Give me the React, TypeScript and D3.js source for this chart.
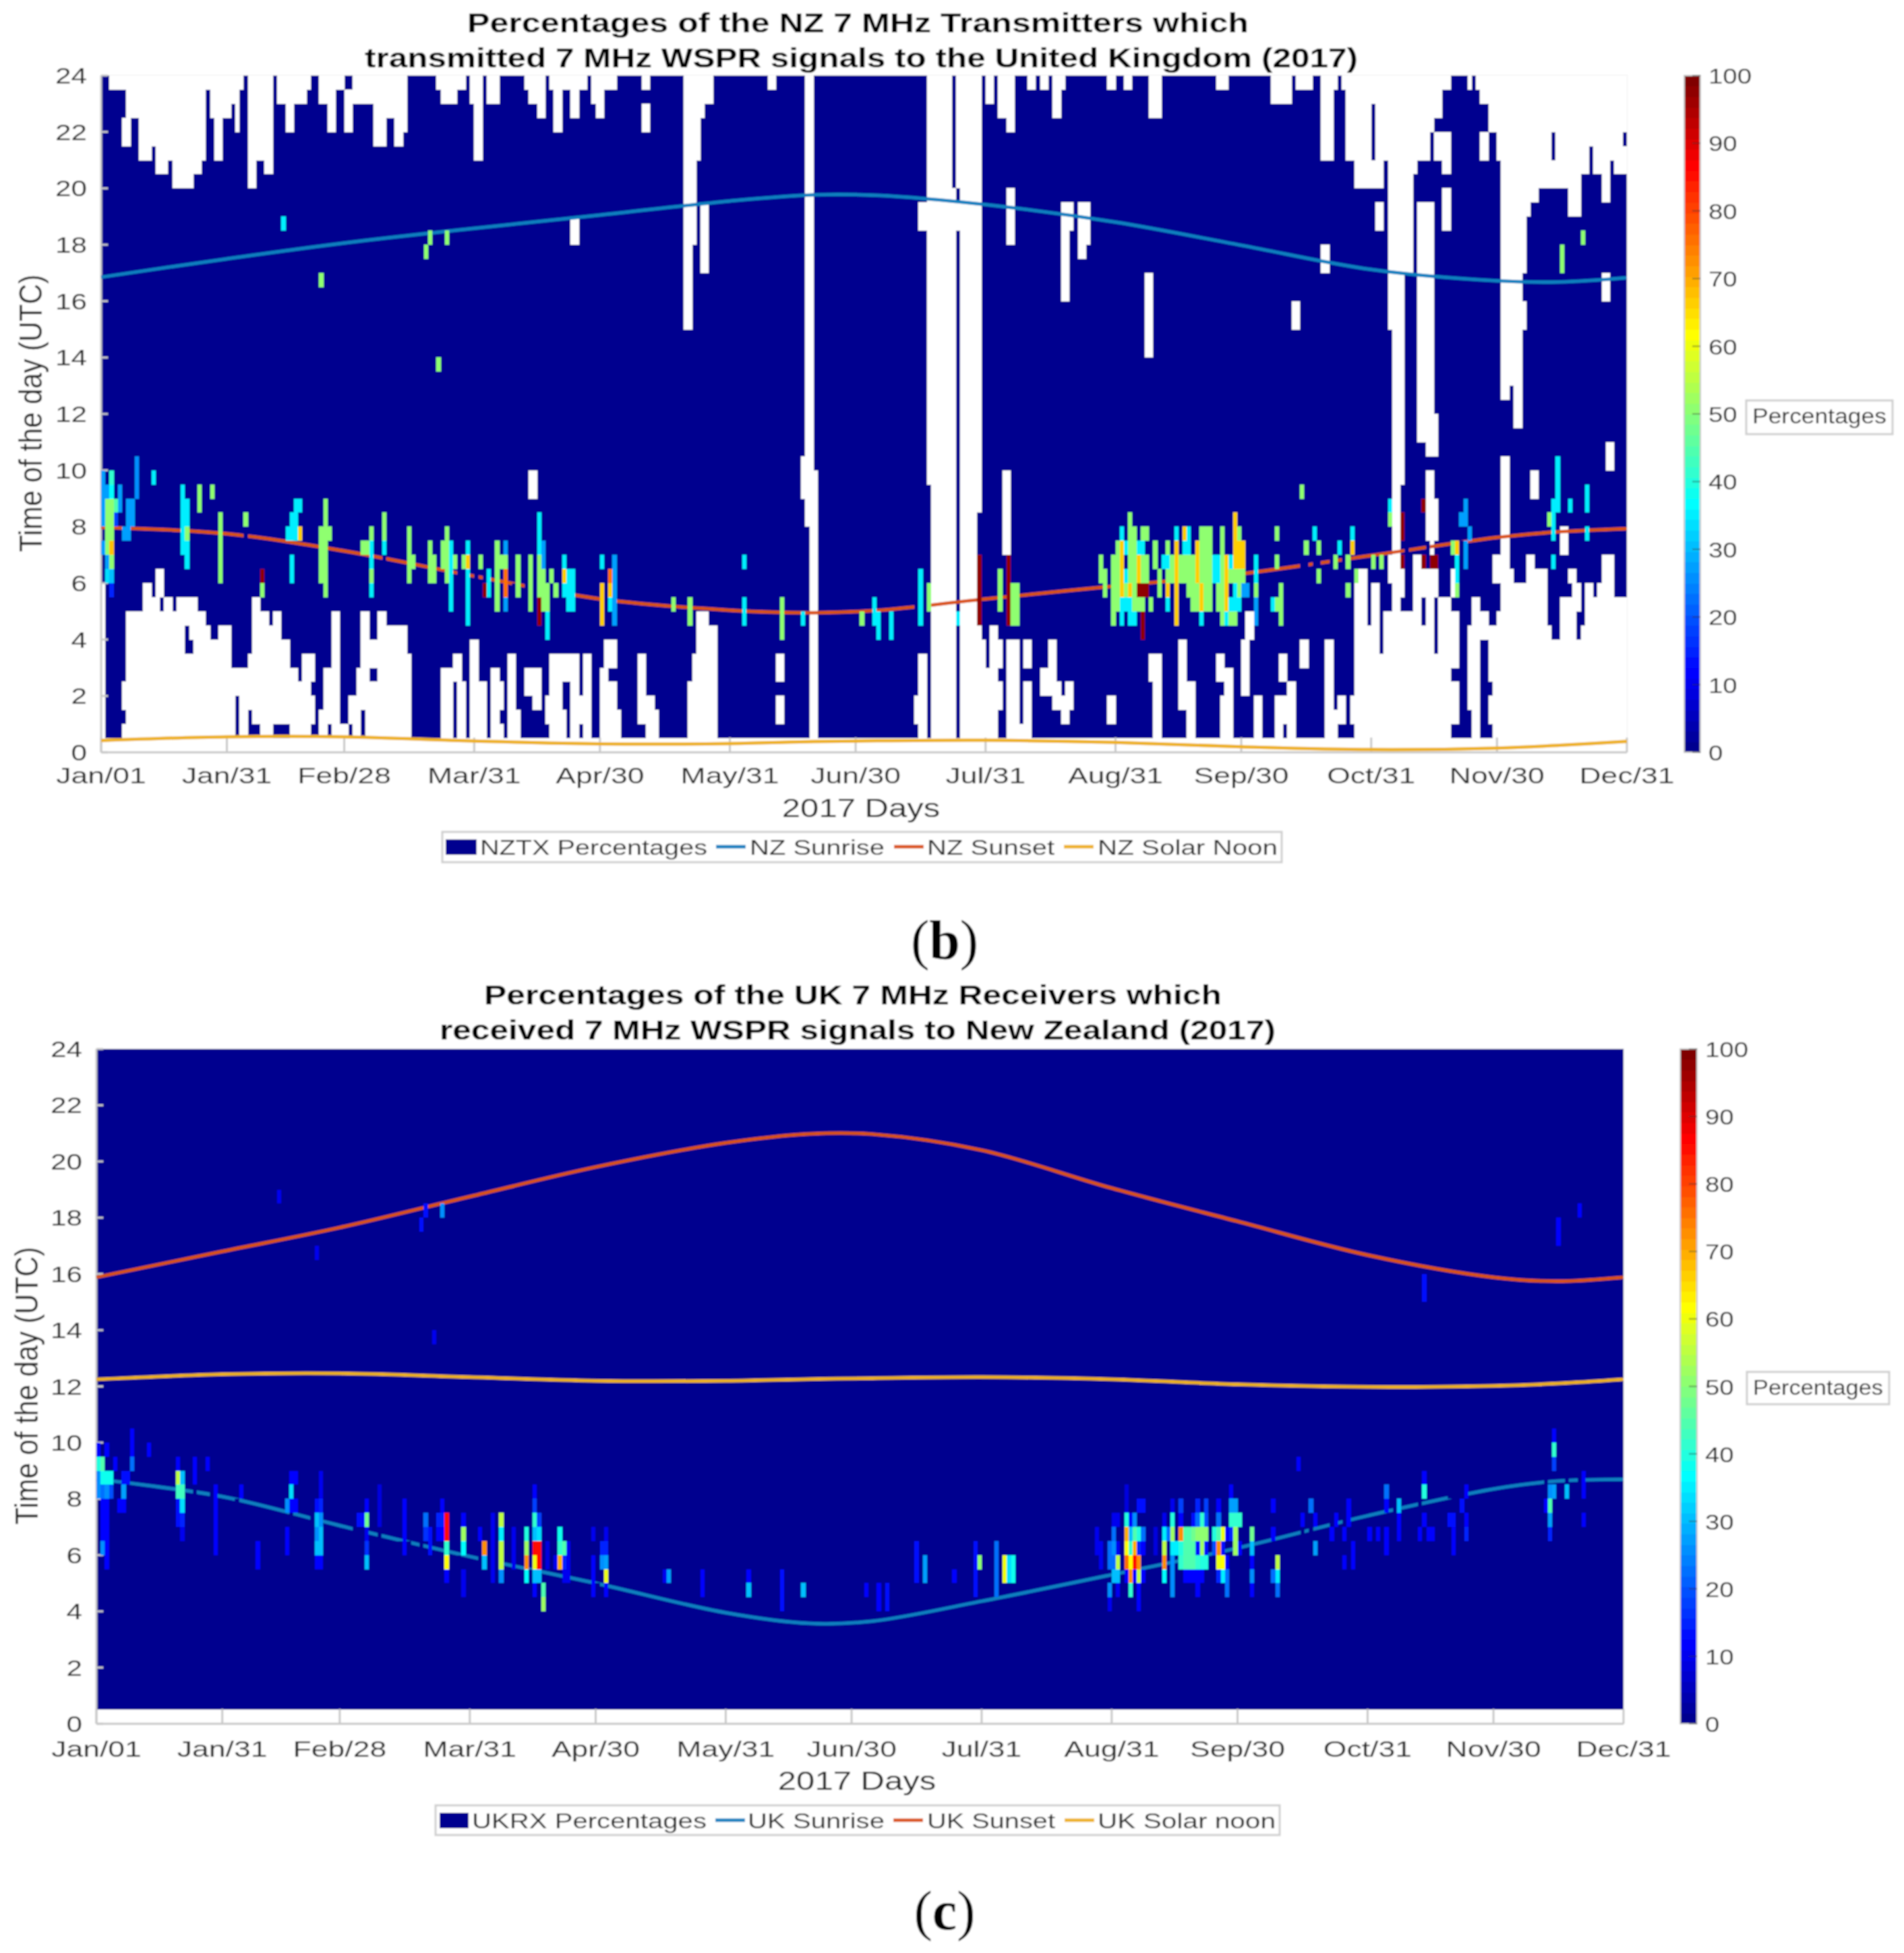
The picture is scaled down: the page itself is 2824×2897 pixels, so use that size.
import React from "react";
import * as d3 from "d3";

const dayTicks = [0, 30, 58, 89, 119, 150, 180, 211, 242, 272, 303, 333, 364];
const dayLabels = ["Jan/01", "Jan/31", "Feb/28", "Mar/31", "Apr/30", "May/31", "Jun/30", "Jul/31", "Aug/31", "Sep/30", "Oct/31", "Nov/30", "Dec/31"];
const hourTicks = [0, 2, 4, 6, 8, 10, 12, 14, 16, 18, 20, 22, 24];
const pctTicks = [0, 10, 20, 30, 40, 50, 60, 70, 80, 90, 100];

// white (no data) runs of the NZ panel: first day, last day, from hour, to hour
const nzGaps = [
  [2,5,23.5,24],[5,6,21.5,22.5],[6,8,22.5,24],[9,11,21,24],[12,12,21.5,24],[13,15,20.5,24],[16,16,21,24],[17,21,20,24],[22,23,20.5,24],[24,24,21,24],[25,25,23.5,24],[26,26,22.5,24],[27,28,21,24],[29,30,22.5,24],[31,31,23,24],[32,32,22,24],[33,33,23.5,24],[35,36,20,24],[37,38,21,24],[39,40,20.5,24],[42,43,23,24],[44,45,22,24],[46,48,23,24],[49,49,23.5,24],[52,53,23,24],[54,55,22,24],[56,57,23.5,24],[58,59,22,23.5],[60,64,23,24],[65,67,21.5,24],[68,69,22.5,24],[70,71,21.5,24],[72,72,22,24],
  [80,80,23.5,24],[81,84,23,24],[85,86,23.5,24],[88,88,23,24],[89,90,21,24],[92,94,23,24],[101,101,23.5,24],[102,103,23,24],[104,105,22.5,24],[107,107,23.5,24],[108,109,22,24],[110,111,23.5,24],[112,113,22.5,24],[114,115,23.5,24],[117,117,23,24],[118,119,22.5,24],[120,122,23.5,24],[129,130,23.5,24],[129,130,22,23],
  [112,113,18,19],[102,103,9,10],[139,140,15,24],[141,141,18,24],[142,142,21,24],[143,143,22.5,24],[144,145,23,24],[143,144,17,19.5],[159,160,23.5,24],
  [168,169,10.5,24],[167,169,10,10.5],[167,170,9,10],[168,170,8,9],[169,170,0.5,8],
  [0,0,0.5,6],[5,5,0.5,1],[5,5,1.5,2.5],[6,9,0.5,5],[10,11,0.5,6],[12,12,0.5,5.5],[13,13,0.5,6.5],[14,14,0.5,5],[14,14,5.5,6.5],[15,16,0.5,5.5],[17,17,0.5,5],[18,19,0.5,5.5],[20,20,0.5,3.5],[20,20,4.5,5.5],[21,21,0.5,3.5],[21,21,4,5.5],[22,22,0.5,5.5],[23,24,0.5,5],[25,25,0.5,4.5],[26,27,0.5,4],[28,30,0.5,4.5],
  [31,31,0.5,3],[32,32,2,3],[33,34,0.5,3],[35,35,1.5,3.5],[36,37,1,5.5],[38,39,0.5,5],[40,40,0.5,4.5],[41,42,1,5],[43,44,1,4],[45,46,0.5,3],[47,47,0.5,2.5],[48,49,0.5,3.5],[50,50,1,2],[50,50,2.5,3.5],[52,52,0.5,1.5],[53,53,0.5,3],[54,54,1,3],[55,56,0.5,5],[57,58,0.5,1],[59,59,1,2],[60,60,0.5,2],[61,61,0.5,3],[62,62,1.5,5],[63,63,0.5,5],[64,65,0.5,2.5],[64,65,3,4],[66,67,0.5,5],[68,72,0.5,4.5],[73,73,0.5,3.5],
  [81,83,0.5,3],[84,84,2.5,3.5],[85,85,0.5,3.5],[86,86,0.5,2.5],[88,89,0.5,4],[90,91,0.5,2.5],[93,94,0.5,3],[95,95,0.5,1],[95,95,1.5,2.5],[97,98,0.5,3.5],[99,99,0.5,1.5],[101,102,2,3],[103,104,1.5,3],[106,106,1,2],[107,109,0.5,3.5],[110,110,0.5,1.5],[110,110,2.5,3.5],[111,111,2.5,3.5],[112,113,0.5,3.5],[114,114,1,2],[115,116,0.5,3.5],[119,119,0.5,3],[120,120,0.5,4],[121,122,0.5,2.5],[121,122,3,4],[123,123,0.5,1.5],[128,129,1,3.5],[130,131,0.5,2],[132,132,0.5,1.5],[140,140,0.5,2.5],[141,141,0.5,3.5],[142,144,0.5,5],[145,146,0.5,4.5],[161,162,2.5,3.5],[161,162,1,2],
  [194,194,1,2],[195,196,0.5,3.5],[195,196,18.5,19.5],[197,197,9.5,18.5],[197,197,18.5,24],[198,202,0.5,24],[203,203,0.5,20],[204,204,18.5,19.5],[204,204,20,24],[205,208,0.5,24],[209,209,0.5,4.5],[209,209,8.5,24],[210,210,0.5,4],[211,211,0.5,3],[212,213,0.5,4.5],[214,214,1.5,2.5],[214,214,3,4],[215,216,7,10],[216,218,0.5,4],[219,219,0.5,1],[220,221,0.5,2.5],[220,221,3,4],[224,225,2,3],[226,226,2,4],[227,227,1.5,4],[228,228,1.5,2.5],[229,229,1,2],[230,230,1,2.5],[231,231,1.5,2.5],[240,241,1,2],[250,250,2.5,3.5],[251,252,0.5,3.5],[257,258,1.5,4],[259,260,0.5,2.5],[266,267,2.5,3.5],[267,267,0.5,2],[268,269,0.5,3],
  [211,212,23,24],[214,215,22.5,24],[216,217,22,24],[216,217,18,20],[221,222,23.5,24],[224,225,23.5,24],[227,228,22.5,24],[229,229,23.5,24],[229,231,18.5,19.5],[229,230,16,18.5],[233,235,18,19.5],[233,234,17.5,18],[240,241,23.5,24],[244,245,23.5,24],[250,252,22.5,24],[249,250,14,17],[266,268,23.5,24],[279,283,23,24],[285,288,23.5,24],[284,285,15,16],
  [272,272,2,4],[273,273,2,5],[274,274,4,5],[275,276,0.5,2],[280,281,0.5,2],[282,282,1,2],[283,284,0.5,2.5],[281,282,2.5,3.5],[286,287,3,4],[292,293,0.5,4],[294,294,0.5,1.5],[295,296,1,2],[298,298,1,2],
  [291,293,21,24],[291,292,17,18],[294,294,23.5,24],[296,296,23.5,24],[297,298,21,24],[299,302,20,24],[303,303,20,21],[303,303,23,24],[304,305,20,24],[304,305,18.5,19.5],[306,306,21,24],
  [299,301,0.5,6.5],[302,302,0.5,4.5],[303,304,0.5,6],[305,305,0.5,3.5],[306,306,0.5,5],[307,307,0.5,5],[307,307,6,7],[307,307,15,24],[308,309,0.5,24],[310,310,9.5,24],[310,310,0.5,5],[310,310,5.5,6.5],[311,312,0.5,5],[311,312,17,24],[313,313,20.5,24],[313,314,0.5,7],[314,317,11,19.5],[314,316,21,24],[317,317,22,24],[318,319,22.5,24],[318,319,21,22],[315,315,0.5,4.5],[315,315,5.5,6.5],[316,317,0.5,6.5],[316,317,7,10],[316,318,10.5,11],[318,318,11,12],[318,318,7.5,9],[318,318,0.5,3.5],[318,318,5.5,6.5],[319,321,0.5,5.5],[320,321,18.5,20],[320,321,20.5,22],[320,321,23.5,24],[322,323,1,2.5],[322,323,3,5],[322,323,5.5,6.5],[326,326,23.5,24],[328,328,23.5,24],[329,330,23,24],[329,330,21,22],[326,326,1.5,4.5],[327,328,0.5,5.5],[329,330,4,5],[331,331,1,2],[331,331,2.5,4.5],[332,332,0.5,4.5],[332,333,6,7],[333,333,0.5,5],[331,332,22,24],[333,333,21,24],
  [334,335,0.5,10.5],[334,335,12.5,24],[336,336,0.5,6.5],[336,336,13,24],[337,338,0.5,6],[337,338,11.5,24],[339,339,0.5,6],[339,339,15,16],[339,339,17,24],[340,340,0.5,7],[340,340,19,24],[341,341,0.5,7],[341,342,9,10],[341,342,19.5,24],[342,344,0.5,6.5],[343,345,20,24],[345,345,0.5,4.5],[346,347,0.5,4],[346,346,22,24],[346,346,20,21],[347,349,20,24],[348,349,0.5,5.5],[348,349,7,8],[350,350,0.5,5.5],[350,350,6,6.5],[351,351,0.5,6.5],[352,352,0.5,4],[352,352,5,6],[353,353,0.5,4.5],[350,352,19,24],[353,354,20.5,24],[354,355,0.5,6],[355,355,21.5,24],[356,357,20.5,24],[356,356,0.5,5.5],[357,357,0.5,6],[358,360,0.5,7],[358,359,19.5,24],[358,359,16,17],[359,360,10,11],[360,360,21,24],[361,363,0.5,5.5],[361,362,20.5,24],[363,363,22,24],[363,363,20.5,21.5],
];

// coloured cells of the NZ panel: day, from hour, to hour, percentage
const nzCellsSpring = [
  [0,8,10,27],[0,7,7.5,28],[1,9,9.5,27],[1,7,9,50],[1,6.5,7,28],[1,6,6.5,33],[2,9.5,10,42],[2,9,9.5,37],[2,7.5,9,50],[2,7,7.5,68],[2,6.5,7,50],[2,6,6.5,30],[2,5.5,6,15],[3,8.5,9,45],[3,8,8.5,18],[4,8.5,9.5,27],[5,7.5,8,27],[6,7.5,9,27],[7,8,9,27],[8,9,10.5,25],[12,9.5,10,35],[19,7,9.5,35],[20,8,9,35],[20,7.5,8,50],[20,6.5,7.5,35],[23,8.5,9.5,50],[26,9,9.5,50],[28,6,8.5,50],[34,8,8.5,50],[38,6,6.5,98],[38,5.5,6,50],[45,6,7,35],[44,7.5,8,35],[45,7.5,8.5,35],[46,7.5,9,35],[47,8.5,9,35],[47,7.5,8,67],[53,8,9,50],[52,6,8,50],[53,5.5,8,50],[54,7.5,8,50],[62,7,7.5,50],[63,7,7.5,50],[64,7.5,8,50],[64,6.5,7.5,35],[64,6,6.5,50],[64,5.5,6,35],[67,7.5,8.5,50],[67,7,7.5,35],
  [73,6,8,50],[74,6.5,7,50],[78,6,7.5,50],[79,6,7,50],[81,6.5,7.5,50],[82,6,8,50],[83,5,7.5,35],[84,6.5,7,50],[86,6.5,7,50],[87,7,7.5,35],[87,6.5,7,67],[87,4.5,6.5,35],[90,6.5,7,50],[91,5.5,6,98],[92,5.5,6.5,35],[94,5,7.5,50],[95,6.5,7,50],[96,7,7.5,27],[96,6.5,7,50],[96,5.5,6.5,76],[96,5,5.5,27],[99,5.5,7,50],[102,5,7,50],[104,7,8.5,35],[104,5.5,7,50],[104,4.5,5.5,98],[105,6.5,7.5,27],[105,5,6.5,50],[106,5.5,6,50],[106,5,5.5,50],[106,4,5,35],[107,6,6.5,50],[108,5.5,6,50],[110,6.5,7,35],[110,6,6.5,67],[110,5.5,6,35],[111,5,6.5,35],[112,5,6.5,35],[119,6.5,7,35],[119,4.5,6,67],[121,6,6.5,76],[121,5.5,6,67],[121,5,5.5,35],[122,4.5,7,27],
  [43,18.5,19,35],[52,16.5,17,50],[77,17.5,18,50],[78,18,18.5,50],[82,18,18.5,50],[80,13.5,14,50],
  [136,5,5.5,50],[140,4.5,5.5,50],[153,6.5,7,35],[153,4.5,5.5,35],[162,4,5.5,50],[167,4.5,5,35],[181,4.5,5,50],[184,4.5,5.5,35],[185,4,5,35],[188,4,5,35],[195,4.5,6.5,35],[197,5,6,50],[204,4.5,5,35],[209,4.5,7,98],[214,5,6.5,50],[216,4.5,7,98],[217,4.5,6,50],[218,4.5,6,50],
];
const nzCellsAutumn = [
  [238,6,7,50],[239,5.5,6.5,50],[241,4.5,7,50],[242,5,7.5,50],[243,7.5,8,35],[243,5.5,7.5,67],[243,4.5,5.5,35],[244,7,7.5,35],[244,6,6.5,35],[244,5.5,6,50],[244,5,5.5,35],[245,6,8.5,50],[245,5.5,6,67],[245,4.5,5.5,35],[246,5,8,50],[246,4.5,5,35],[247,7,7.5,35],[247,6,7,67],[247,5.5,6,98],[247,5,5.5,50],[248,7.5,8,50],[248,7,7.5,35],[248,6,7,50],[248,5.5,6,98],[248,5,5.5,50],[248,4,5,98],[249,7.5,8,50],[249,6,7,50],[249,5.5,6,98],[250,5,5.5,50],[251,6.5,7.5,50],[252,5.5,6.5,50],[253,6.5,7,35],[254,7,7.5,50],[254,6.5,7,35],[254,6,6.5,50],[254,5.5,6,67],[254,5,5.5,35],[255,6,7,50],[256,7.5,8,35],[256,4.5,7.5,67],[257,6,7,50],[258,7.5,8,67],[258,7,7.5,35],[258,6,7,50],[259,7,8,35],[259,5.5,7,50],[260,5,7,50],[261,6,7.5,67],[261,5,6,50],[262,6,8,50],[262,5,6,67],[262,4.5,5,35],[263,5,8,50],[264,5,8,50],[265,6,7,35],[266,6,7,35],[266,5,6,50],[267,4.5,8,50],[268,5,7,67],[268,4.5,5,35],[269,6.5,7,35],[269,6,6.5,50],[269,5,5.5,35],[269,4.5,5,50],[270,6.5,8.5,67],[270,6,6.5,50],[270,5,6,35],[270,4.5,5,50],[271,7.5,8,50],[271,6.5,7.5,67],[271,5.5,6.5,50],[271,5,5.5,35],[272,6.5,7.5,67],[272,6,6.5,50],[272,5.5,6,27],[273,5.5,6,27],[275,6,7,35],[275,5.5,6,50],[275,4.5,5.5,27],[279,5,5.5,35],[280,7.5,8,50],[280,6.5,7,50],[280,5,5.5,50],[281,4.5,6,50],
  [286,9,9.5,50],[287,7,7.5,50],[289,7.5,8,35],[290,7,7.5,50],[290,6,6.5,50],[294,6.5,7,50],[295,7,7.5,35],[297,6.5,7,50],[297,5.5,6,50],[298,7.5,8,35],[298,7,7.5,67],[299,6,6.5,50],[303,6.5,7,50],[305,6.5,7,50],[307,8.5,9,35],[307,8,8.5,50],[310,7.5,8.5,98],[310,6.5,7,98],[315,8.5,9,98],[315,6.5,7,98],[317,6.5,7,98],[318,6.5,7,98],[322,7,7.5,50],[323,7,7.5,67],[323,6,7,35],[323,5.5,6,50],[324,8,8.5,27],[325,8,9,27],[325,6.5,7.5,27],[326,7.5,8,27],[345,8,8.5,50],[346,7.5,9,35],[346,6.5,7,35],[347,9,10.5,35],[347,8.5,9,35],[350,8.5,9,35],[354,8.5,9.5,35],[354,7.5,8,35],[348,17,18,50],[353,18,18.5,50],
];
// cells with a value near zero: as dark as the field, but they still lie over the curves
const nzFaint = [
  [34,7.5,8,1],[67,6.5,7,1],[85,6,6.5,1],[86,6,6.5,1],[89,6,6.5,1],[91,6,6.5,1],[94,5.5,6,1],[95,5.5,6,1],[98,5.5,6,1],[101,5.5,6,1],[103,5,6,1],[107,5,6,1],[109,5,6,1],[120,5,5.5,1],[194,5,5.5,1],[196,5,5.5,1],[286,6.5,7,1],[287,6.5,7,1],[289,6.5,7,1],[290,6.5,7,1],[293,6.5,7,1],[296,6.5,7,1],[297,7,7.5,1],[311,6.5,7.5,1],[316,7,7.5,1],[324,7,7.5,1],[325,7,7.5,1],
];

// the UK panel
const ukCellsSpring = [
  [0,9.5,10,12],[0,9,9.5,40],[0,8,9,25],[1,9,9.5,45],[1,8.5,9,38],[1,8,8.5,22],[1,6.5,8,12],[1,6,6.5,25],[2,9.5,10,12],[2,8.5,9,38],[2,8,8.5,25],[2,5.5,8,12],[3,8.5,9,38],[3,8,8.5,20],[4,9,9.5,12],[5,7.5,8,12],[6,8.5,9,14],[6,8,8.5,28],[6,7.5,8,12],[7,8.5,9,14],[8,9.5,10.5,12],[8,9,9.5,22],[12,9.5,10,12],[19,9,9.5,12],[19,8.5,9,55],[19,8,8.5,43],[19,7,8,14],[20,8.5,9,30],[20,8,8.5,43],[20,7.5,8,33],[20,7,7.5,15],[20,6.5,7,10],[23,8.5,9.5,12],[26,9,9.5,12],[28,6,8.5,12],[34,8,8.5,12],[38,5.5,6.5,12],[45,7.5,8,26],[45,6,7,12],[46,8.5,9,12],[46,8,8.5,33],[46,7.5,8,12],[47,8.5,9,12],[47,7.5,8,12],[52,7.5,8,13],[52,7,7.5,30],[52,6.5,7,25],[52,6,6.5,30],[52,5.5,6,12],[53,8,9,10],[53,7.5,8,15],[53,7,7.5,25],[53,6,7,30],[53,5.5,6,12],[62,7,7.5,13],[63,7,7.5,13],[64,7.5,8,12],[64,7,7.5,47],[64,6.5,7,10],[64,6,6.5,17],[64,5.5,6,30],[67,7,8.5,9],[73,7,8,12],[73,6,7,12],[78,7,7.5,22],[78,6.5,7,17],[79,6,6.5,14],[79,6.5,7,14],[81,7,7.5,15],[81,6.5,7,12],[82,7.5,8,12],[82,7,7.5,15],[82,6.5,7,12],
  [83,6.5,7.5,85],[83,6,6.5,42],[83,5.5,6,62],[83,5,5.5,12],[87,7,7.5,12],[87,6.5,7,52],[87,6,6.5,37],[87,4.5,5.5,10],[91,6.5,7,12],[92,6,6.5,72],[92,5.5,6,30],[94,5,7.5,10],[96,7,7.5,55],[96,6.5,7,35],[96,5.5,6.5,55],[96,5,5.5,25],[99,5.5,7,10],[102,6.5,7,40],[102,6,6.5,52],[102,5.5,6,72],[102,5,5.5,37],[104,8,8.5,12],[104,7.5,8,18],[104,7,7.5,42],[104,6.5,7,30],[104,6,6.5,85],[104,5.5,6,60],[104,5,5.5,30],[104,4.5,5,12],[105,7,7.5,18],[105,6.5,7,33],[105,5.5,6.5,85],[105,5,5.5,30],[106,4.5,5,45],[106,4,4.5,53],[107,5.5,6.5,9],[109,5.5,6,10],[110,6.5,7,38],[110,6,6.5,42],[110,5.5,6,70],[111,6,6.5,45],[111,5.5,6,15],[111,5,5.5,10],[112,5,6.5,10],[118,6.5,7,10],[118,4.5,6,12],[120,6,6.5,15],[120,5.5,6,25],[121,6.5,7,10],[121,6,6.5,15],[121,5.5,6,28],[121,5,5.5,60],[121,4.5,5,12],
  [43,18.5,19,10],[52,16.5,17,10],[77,17.5,18,14],[78,18,18.5,14],[82,18,18.5,25],[80,13.5,14,10],[135,5,5.5,10],[136,5,5.5,28],[144,4.5,5.5,12],[155,5,5.5,12],[155,4.5,5,30],[163,4,5.5,14],[168,4.5,5,30],[183,4.5,5,12],[186,4,5,12],[188,4,5,14],[195,5,6.5,14],[197,5,6,28],[204,5,5.5,12],[209,5,6.5,14],[209,4.5,5,14],[210,5.5,6,50],[214,4.5,6.5,22],[216,5,6,60],[217,5,6,33],[218,5,6,38],
];
const ukCellsAutumn = [
  [238,6,7,10],[239,5.5,6.5,10],[241,5.5,6.5,22],[241,4.5,5,25],[241,4,4.5,10],[242,7,7.5,10],[242,6.5,7,22],[242,6,6.5,25],[242,5.5,6,22],[242,5,5.5,30],[243,7,7.5,10],[243,6,6.5,10],[243,5.5,6,55],[243,5,5.5,30],[243,4.5,5,10],[245,7.5,8.5,8],[245,7,7.5,40],[245,6.5,7,70],[245,6,6.5,62],[245,5.5,6,75],[245,5,5.5,12],[246,7,7.5,12],[246,6.5,7,30],[246,6,6.5,42],[246,5.5,6,62],[246,5,5.5,72],[246,4.5,5,42],[247,7,7.5,25],[247,6.5,7,45],[247,6,6.5,70],[247,5.5,6,85],[247,5,5.5,12],[248,7.5,8,13],[248,6.5,7,40],[248,6,6.5,15],[248,5.5,6,72],[248,5,5.5,55],[248,4,5,12],[249,7.5,8,13],[249,6.5,7,22],[249,6,6.5,12],[249,5,5.5,12],[252,6,7,8],[254,7,7.5,10],[254,6.5,7,35],[254,6,6.5,55],[254,5.5,6,72],[254,5,5.5,37],[255,6.5,7,22],[256,7.5,8,10],[256,7,7.5,40],[256,6.5,7,52],[256,6,6.5,35],[256,4.5,6,25],[257,6,6.5,35],[258,7.5,8,18],[258,7,7.5,12],[258,6.5,7,72],[258,6,6.5,40],[258,5.5,6,42],[259,6.5,7,45],[259,6,6.5,45],[259,5.5,6,45],[259,5,5.5,12],[260,6.5,7,45],[260,6,6.5,45],[260,5.5,6,45],[260,5,5.5,12],[261,7,7.5,14],[261,6.5,7,48],[261,6,6.5,45],[261,5.5,6,45],[261,5,5.5,12],[262,7.5,8,15],[262,7,7.5,22],[262,6.5,7,50],[262,6,6.5,14],[262,5.5,6,42],[262,4.5,5.5,12],[263,7,7.5,42],[263,6.5,7,50],[263,6,6.5,52],[263,5.5,6,40],[263,5,5.5,12],[264,7.5,8,18],[264,7,7.5,20],[264,6.5,7,50],[264,6,6.5,14],[264,5.5,6,40],[266,6.5,7,40],[266,6,6.5,20],[267,7.5,8,12],[267,7,7.5,22],[267,6.5,7,44],[267,6,6.5,72],[267,5.5,6,60],[267,5,5.5,15],[268,6.5,7,60],[268,6,6.5,14],[268,5.5,6,62],[268,5,5.5,35],[269,6.5,7,12],[269,5.5,6,12],[269,4.5,5.5,22],[270,8,8.5,12],[270,7.5,8,28],[270,7,7.5,42],[270,6.5,7,15],[271,7.5,8,28],[271,7,7.5,42],[271,6,7,52],[272,7,7.5,42],[272,6,6.5,12],[275,6.5,7,48],[275,6,6.5,30],[275,5.5,6,12],[275,5,5.5,25],[275,4.5,5,12],[280,7.5,8,12],[280,6.5,7,12],[280,5,5.5,22],[281,5.5,6,55],[281,5,5.5,35],[281,4.5,5,22],
  [286,9,9.5,12],[287,7,7.5,12],[289,7.5,8,22],[290,7,7.5,12],[290,6,6.5,28],[294,6.5,7,12],[295,7,7.5,12],[297,6.5,7,12],[297,5.5,6,12],[298,7,8,12],[299,5.5,6.5,12],[303,6.5,7,12],[305,6.5,7,12],[307,8,8.5,22],[307,7.5,8,12],[307,6,7,12],[310,7.5,8,30],[310,7,7.5,12],[310,6.5,7,12],[315,6.5,7,12],[316,8.5,9,12],[316,8,8.5,40],[316,7,7.5,12],[317,6.5,7,12],[318,6.5,7,12],[316,15,16,13],[322,7,7.5,14],[323,7,7.5,14],[323,6,7,12],[325,7.5,8,14],[326,8,8.5,12],[326,7,7.5,12],[326,6.5,7,15],[345,7.5,8,12],[346,8,8.5,25],[346,7.5,8,45],[346,7,7.5,28],[346,6.5,7,15],[347,10,10.5,12],[347,9.5,10,42],[347,9,9.5,18],[347,8,8.5,28],[350,8,8.5,30],[354,8,9,12],[354,7,7.5,12],[348,17,18,12],[353,18,18.5,12],
];
const ukFaint = [
  [23,8,8.5,1],[27,8,8.5,1],[33,7.5,8,1],[44,7,7.5,1],[46,7,7.5,1],[51,7,7.5,1],[54,6.5,7,1],[61,6.5,7,1],[62,6.5,7,1],[63,6.5,7,1],[67,6.5,7,1],[72,6,6.5,1],[74,6,6.5,1],[77,6,6.5,1],[86,5.5,6,1],[91,5.5,6,1],[93,5.5,6,1],[95,5.5,6,1],[98,5,5.5,1],[101,5,5.5,1],[103,4.5,5.5,1],[119,4.5,5,1],
  [287,6.5,7,1],[289,6.5,7.5,1],[294,7,7.5,1],[297,7,7.5,1],[309,7.5,8,1],[315,7.5,8,1],[322,8,8.5,1],[323,8,8.5,1],[324,8,8.5,1],[325,8,8.5,1],[345,8.5,9,1],[350,8.5,9,1],[353,8.5,9,1],
];

const lineDays = [0, 30, 58, 89, 119, 150, 170, 185, 211, 242, 272, 303, 333, 348, 364];
const nzSunrise = [16.85, 17.5, 18.06, 18.58, 19.05, 19.55, 19.77, 19.75, 19.42, 18.8, 17.98, 17.12, 16.72, 16.68, 16.83];
const nzSunset = [7.98, 7.75, 7.14, 6.25, 5.44, 5.04, 4.95, 5.03, 5.44, 5.9, 6.33, 6.98, 7.62, 7.82, 7.93];
const nzNoon = [0.42, 0.55, 0.55, 0.4, 0.3, 0.31, 0.38, 0.41, 0.43, 0.35, 0.2, 0.1, 0.15, 0.25, 0.39];
const ukSunrise = [8.7, 8.08, 7.05, 5.95, 5.0, 3.95, 3.57, 3.65, 4.36, 5.3, 6.25, 7.4, 8.35, 8.63, 8.69];
const ukSunset = [15.88, 16.8, 17.65, 18.75, 19.8, 20.66, 20.98, 20.97, 20.4, 19.05, 17.87, 16.67, 15.88, 15.74, 15.88];
const ukNoon = [12.25, 12.43, 12.46, 12.33, 12.2, 12.2, 12.26, 12.29, 12.33, 12.25, 12.07, 11.98, 12.02, 12.1, 12.25];

const legendWords = [
  ["NZTX Percentages", "NZ Sunrise", "NZ Sunset", "NZ Solar Noon"],
  ["UKRX Percentages", "UK Sunrise", "UK Sunset", "UK Solar noon"],
];

const INK = "#262626";
const BLUE = "#0f80bf";
const ORANGE = "#d95319";
const YELLOW = "#edb120";

function jet(v: number) {
  const i = Math.min(63, Math.floor((v / 100) * 64));
  const x = (i + 1) / 64;
  const c = (t: number) => Math.round(255 * Math.max(0, Math.min(1, t)));
  const r = c(Math.min(4 * x - 1.5, -4 * x + 4.5));
  const g = c(Math.min(4 * x - 0.5, -4 * x + 3.5));
  const b = c(Math.min(4 * x + 0.5, -4 * x + 2.5));
  return `rgb(${r},${g},${b})`;
}

function T(p: any) {
  const { x, y, sx = 1, sy = 1, rot = 0, size, anchor = "start", weight = 400, fill = INK, family = "'Liberation Sans', Arial, sans-serif", children, len } = p;
  return (
    <text
      transform={`translate(${x},${y}) rotate(${rot}) scale(${sx},${sy})`}
      fontFamily={family}
      fontSize={size}
      fontWeight={weight}
      textAnchor={anchor}
      fill={fill}
      textLength={len}
      lengthAdjust={len ? "spacingAndGlyphs" : undefined}
    >
      {children}
    </text>
  );
}

function Panel(p: any) {
  const x = d3.scaleLinear().domain([0, 364]).range(p.xr);
  const y = d3.scaleLinear().domain([0, 24]).range(p.yr);
  const [x0, x1] = p.xr;
  const [yb, yt] = p.yr;
  const curve = d3.line<number>().x((_, i) => x(lineDays[i])).y((v) => y(v)).curve(d3.curveCatmullRom.alpha(0.5));
  const cb = d3.scaleLinear().domain([0, 100]).range([yb, yt]);
  const levels = d3.range(64);
  const rect = (d0: number, d1: number, lo: number, hi: number, fill: string, key: string) => (
    <rect key={key} x={x(d0)} width={x(d1 + 1) - x(d0)} y={y(hi)} height={y(lo) - y(hi)} fill={fill} shapeRendering="crispEdges" />
  );
  return (
    <g>
      <rect x={x0} y={yt} width={x1 - x0} height={yb - yt} fill="#fff" stroke="#eeeeee" strokeWidth={2} />
      {p.hours.map((h: number) => <line key={h} x1={x0} x2={x1} y1={y(h)} y2={y(h)} stroke="#f0f0f0" strokeWidth={2} />)}
      {dayTicks.map((d) => <line key={d} x1={x(d)} x2={x(d)} y1={yt} y2={yb} stroke="#f0f0f0" strokeWidth={2} />)}
      {rect(0, 363, 0.5, 24, "#00008f", "base")}
      {p.gaps.map((g: number[], i: number) => rect(g[0], g[1], g[2], g[3], "#ffffff", "g" + i))}
      <line x1={x0} x2={x0} y1={yt} y2={yb} stroke="#c8c8c8" strokeWidth={3} />
      <line x1={x0} x2={x1} y1={yb} y2={yb} stroke="#c8c8c8" strokeWidth={3} />
      {dayTicks.map((d) => <line key={d} x1={x(d)} x2={x(d)} y1={yb} y2={yb - 22} stroke="#c8c8c8" strokeWidth={3} />)}
      {p.hours.map((h: number) => <line key={h} x1={x0} x2={x0 + 10} y1={y(h)} y2={y(h)} stroke="#c8c8c8" strokeWidth={3} />)}
      <path d={curve(p.sunrise) as string} fill="none" stroke={BLUE} strokeWidth={5} />
      <path d={curve(p.sunset) as string} fill="none" stroke={ORANGE} strokeWidth={5} />
      <path d={curve(p.noon) as string} fill="none" stroke={YELLOW} strokeWidth={5} />
      {p.cells.map((c: number[], i: number) => rect(c[0], c[0], c[1], c[2], jet(c[3]), "c" + i))}

      {p.hours.map((h: number) => (
        <T key={h} x={p.yLabelX} y={y(h) + 12} size={33} sx={1.28} anchor="end">{h}</T>
      ))}
      {dayTicks.map((d, i) => (
        <T key={d} x={x(d)} y={p.xLabelY} size={34} sx={1.31} anchor="middle">{dayLabels[i]}</T>
      ))}
      <T x={p.xTitleX} y={p.xTitleY} size={38} sx={1.29} anchor="middle">2017 Days</T>
      <T x={p.yTitleX} y={(yb + yt) / 2 - 1 + p.yTitleDy} size={38} sx={1.1} sy={1.25} rot={-90} anchor="middle">Time of the day (UTC)</T>
      <T x={p.titleX1[0]} y={p.titleY[0]} size={40} weight={700} fill="#000" len={p.titleX1[1]}>{p.title[0]}</T>
      <T x={p.titleX2[0]} y={p.titleY[1]} size={40} weight={700} fill="#000" len={p.titleX2[1]}>{p.title[1]}</T>

      {levels.map((l) => (
        <rect key={l} x={p.cbar[0]} width={p.cbar[1] - p.cbar[0]} y={cb(((l + 1) / 64) * 100)} height={cb((l / 64) * 100) - cb(((l + 1) / 64) * 100) + 0.6} fill={jet(((l + 0.5) / 64) * 100)} shapeRendering="crispEdges" />
      ))}
      <rect x={p.cbar[0]} y={yt} width={p.cbar[1] - p.cbar[0]} height={yb - yt} fill="none" stroke="#c8c8c8" strokeWidth={2} />
      {pctTicks.map((t) => (
        <g key={t}>
          <line x1={p.cbar[1] - 12} x2={p.cbar[1]} y1={cb(t)} y2={cb(t)} stroke="#333" strokeOpacity={0.45} strokeWidth={2} />
          <T x={p.cbar[1] + 12} y={cb(t) + 12} size={32} sx={1.2}>{t}</T>
        </g>
      ))}
      <rect x={p.pbox[0]} y={p.pbox[1]} width={p.pbox[2]} height={p.pbox[3]} fill="#fff" stroke="#cfcfcf" strokeWidth={3} />
      <T x={p.pbox[0] + 9} y={p.pbox[1] + 34} size={31} len={p.pbox[2] - 18}>Percentages</T>

      <rect x={p.leg[0]} y={p.leg[1]} width={p.leg[2]} height={p.leg[3]} fill="#fff" stroke="#cfcfcf" strokeWidth={3} />
      <rect x={p.swatch[0]} y={p.leg[1] + 11} width={p.swatch[1]} height={23} fill="#00008f" />
      {p.words.map((w: string, i: number) => (
        <T key={w} x={p.wordX[i][0]} y={p.leg[1] + 34} size={31} len={p.wordX[i][1]}>{w}</T>
      ))}
      {[BLUE, ORANGE, YELLOW].map((c, i) => (
        <line key={c} x1={p.sample[i]} x2={p.sample[i] + 44} y1={p.leg[1] + 22} y2={p.leg[1] + 22} stroke={c} strokeWidth={5} />
      ))}
    </g>
  );
}

export default function App() {
  return (
    <svg width={2824} height={2897} viewBox="0 0 2824 2897" style={{ position: "absolute", left: 0, top: 0, display: "block", background: "#fff" }}>
      <defs>
        <filter id="soft" filterUnits="userSpaceOnUse" x={0} y={0} width={2824} height={2897}>
          <feGaussianBlur stdDeviation={0.8} />
        </filter>
      </defs>
      <g filter="url(#soft)">
        <rect width={2824} height={2897} fill="#fff" />
        <Panel
          xr={[150, 2413]} yr={[1116, 112]} hours={hourTicks}
          gaps={nzGaps} cells={[...nzFaint, ...nzCellsSpring, ...nzCellsAutumn]}
          sunrise={nzSunrise} sunset={nzSunset} noon={nzNoon}
          yLabelX={129} xLabelY={1162} xTitleX={1277} xTitleY={1212} yTitleX={62} yTitleDy={0}
          title={["Percentages of the NZ 7 MHz Transmitters which", "transmitted 7 MHz WSPR signals to the United Kingdom (2017)"]}
          titleX1={[693, 1159]} titleX2={[541, 1473]} titleY={[48, 100]}
          cbar={[2498, 2522]} pbox={[2590, 594, 217, 50]}
          leg={[656, 1234, 1245, 45]} swatch={[661, 46]} words={legendWords[0]}
          wordX={[[712, 337], [1112, 200], [1375, 189], [1628, 267]]} sample={[1062, 1326, 1578]}
        />
        <Panel
          xr={[143, 2408]} yr={[2557, 1556]} hours={hourTicks}
          gaps={[]} cells={[...ukFaint, ...ukCellsSpring, ...ukCellsAutumn]}
          sunrise={ukSunrise} sunset={ukSunset} noon={ukNoon}
          yLabelX={122} xLabelY={2606} xTitleX={1271} xTitleY={2655} yTitleX={56} yTitleDy={0}
          title={["Percentages of the UK 7 MHz Receivers which", "received 7 MHz WSPR signals to New Zealand (2017)"]}
          titleX1={[718, 1094]} titleX2={[652, 1240]} titleY={[1490, 1542]}
          cbar={[2492, 2517]} pbox={[2591, 2035, 211, 48]}
          leg={[646, 2678, 1252, 44]} swatch={[652, 43]} words={legendWords[1]}
          wordX={[[700, 348], [1109, 203], [1375, 190], [1628, 264]]} sample={[1061, 1325, 1579]}
        />
        <T x={1401} y={1422} size={82} anchor="middle" fill="#000" family="'Liberation Serif', serif">(<tspan fontWeight={700}>b</tspan>)</T>
        <T x={1401} y={2862} size={82} anchor="middle" fill="#000" family="'Liberation Serif', serif">(<tspan fontWeight={700}>c</tspan>)</T>
      </g>
    </svg>
  );
}
